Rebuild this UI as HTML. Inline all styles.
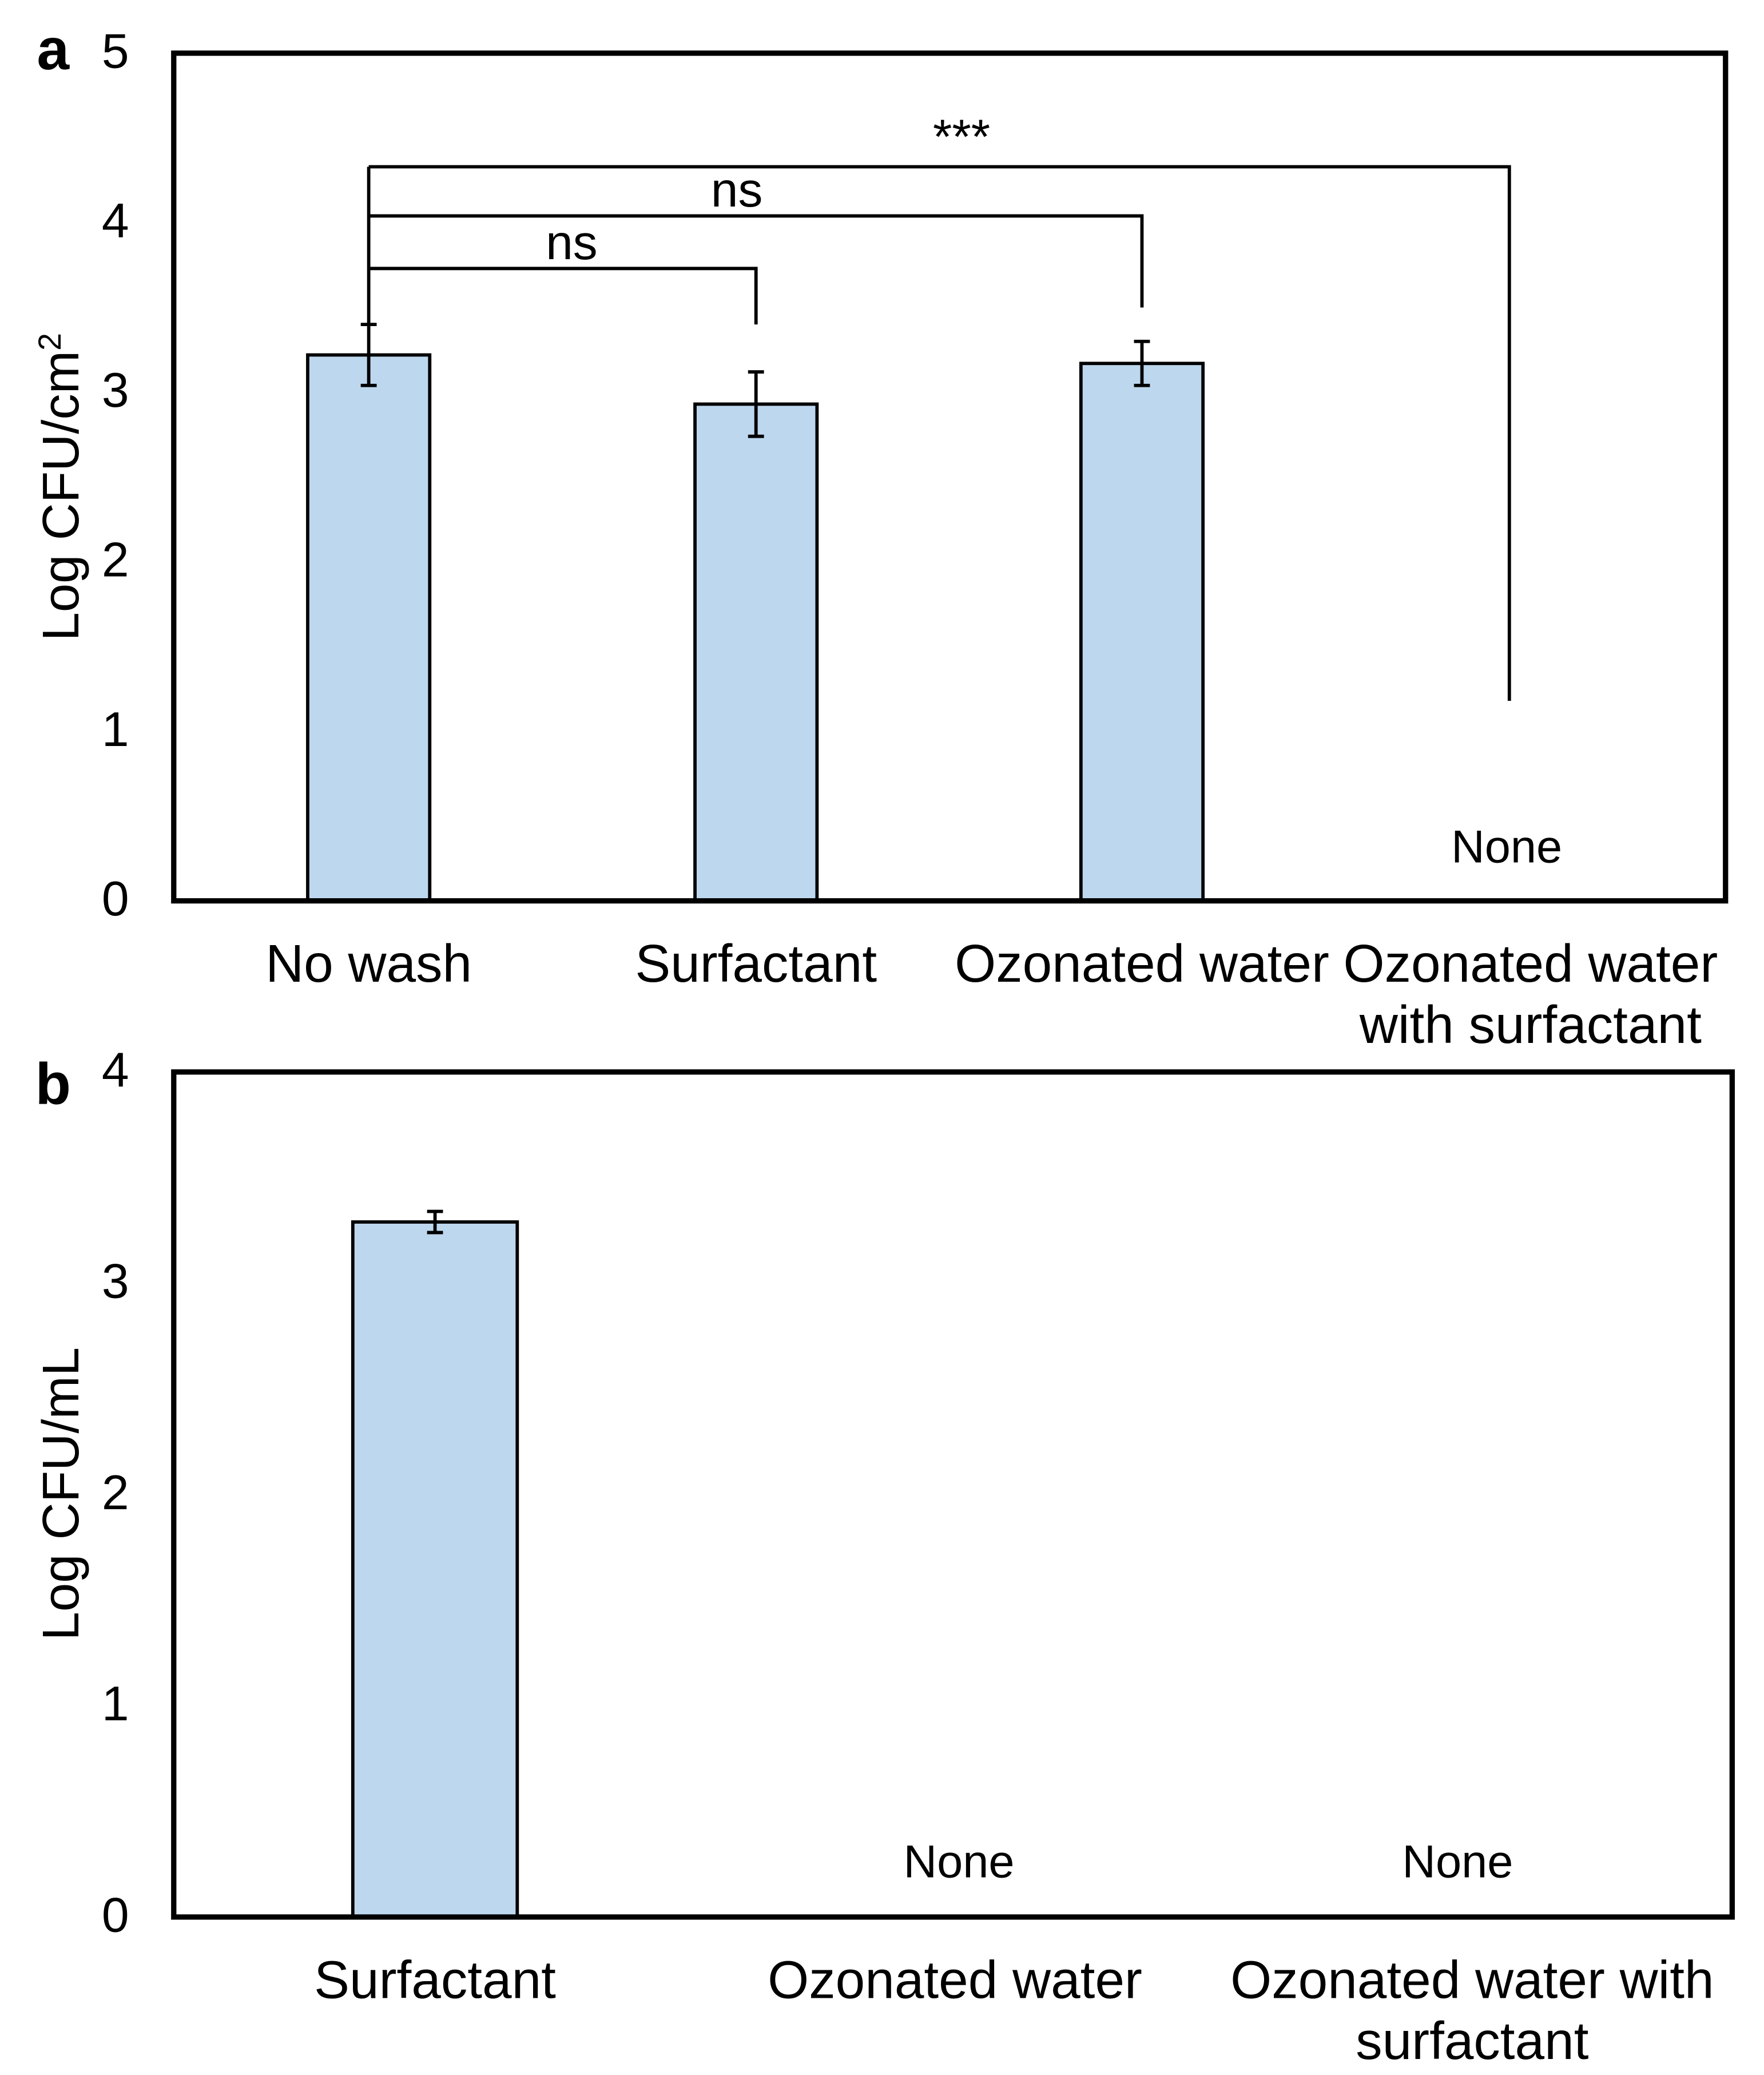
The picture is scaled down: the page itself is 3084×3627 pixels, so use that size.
<!DOCTYPE html>
<html><head><meta charset="utf-8"><style>html,body{margin:0;padding:0;background:#fff}svg{display:block}</style></head>
<body>
<svg id="chart" xmlns="http://www.w3.org/2000/svg" width="3084" height="3627" viewBox="0 0 1330 1564" font-family="'Liberation Sans', sans-serif">
<rect x="0" y="0" width="1330" height="1564" fill="#fff"/>
</svg>
<script>
const NS='http://www.w3.org/2000/svg';
const svg=document.getElementById('chart');
// Panel a data
const catsA=[['No wash'],['Surfactant'],['Ozonated water'],['Ozonated water','with surfactant']];
const valsA=[3.22,2.93,3.17,null];
const errsA=[0.18,0.19,0.13,null];
const ticksA=[0,1,2,3,4,5];
// Panel b data
const catsB=[['Surfactant'],['Ozonated water'],['Ozonated water with','surfactant']];
const valsB=[3.29,null,null];
const errsB=[0.05,null,null];
const ticksB=[0,1,2,3,4];
// significance brackets (panel a)
const sigFrom=[0,0,0];
const sigTo=[1,2,3];
const sigY=[3.73,4.04,4.33];
const sigEnd=[3.4,3.5,1.18];
const sigLabel=['ns','ns','***'];

function el(tag,attrs,parent){const e=document.createElementNS(NS,tag);for(const k in attrs)e.setAttribute(k,attrs[k]);(parent||svg).appendChild(e);return e;}
function txt(s,x,y,attrs,parent){const t=el('text',Object.assign({x:x,y:y,'font-size':40,fill:'#000','text-anchor':'middle'},attrs),parent);t.textContent=s;return t;}

function panel(o){
  const g=el('g',{});
  
  
  const yS=v=>o.bottom-(v-0)/(o.max)*(o.bottom-o.top);
  const xS=i=>o.centers[i];
  o.vals.forEach((v,i)=>{
    if(v===null){
      const n=txt('None',xS(i)+o.noneDx[i],o.noneY,{'font-size':35},g);
      
      
      return;
    }
    const r=el('rect',{x:xS(i)-o.bw/2,y:yS(v),width:o.bw,height:yS(0)-yS(v),fill:'#bdd7ee',stroke:'#000','stroke-width':2.5},g);
    
    
    const e=o.errs[i];
    const eg=el('g',{stroke:'#000','stroke-width':2.5},g);
    
    
    el('line',{x1:xS(i),x2:xS(i),y1:yS(v+e),y2:yS(v-e)},eg);
    el('line',{x1:xS(i)-6,x2:xS(i)+6,y1:yS(v+e),y2:yS(v+e)},eg);
    el('line',{x1:xS(i)-6,x2:xS(i)+6,y1:yS(v-e),y2:yS(v-e)},eg);
  });
  o.ticks.forEach(t=>{
    const l=txt(String(t),87,yS(t)+11,{'font-size':37},g);
    
    
  });
  o.cats.forEach((c,i)=>{
    c.forEach((line,j)=>{
      const l=txt(line,xS(i)+(o.catDx[i]||0),o.catY+j*46,{},g);
      
      
    });
  });
  const f=el('rect',{x:o.left,y:o.top,width:o.right-o.left,height:o.bottom-o.top,fill:'none',stroke:'#000','stroke-width':4},g);
  
  
  const pl=txt(o.letter,40,o.letterY,{'font-weight':'bold','font-size':44},g);
  
  
  const yt=el('text',{x:0,y:0,'font-size':39,'text-anchor':'middle',transform:`translate(59,${o.titleY}) rotate(-90)`},g);
  yt.innerHTML=o.title;
  
  
  return {yS,xS,g};
}

const A=panel({name:'panel-a',left:131,right:1301,top:40,bottom:679,max:5,centers:[278,570,861,1138],bw:92,
  vals:valsA,errs:errsA,ticks:ticksA,cats:catsA,catY:740,catDx:[0,0,0,16],noneY:650,noneDx:[0,0,0,-2],letter:'a',letterY:52,
  title:'Log CFU/cm<tspan baseline-shift="super" font-size="24">2</tspan>',titleY:367});
const sg=el('g',{stroke:'#000','stroke-width':2.5,fill:'none'});


el('line',{x1:A.xS(0),x2:A.xS(0),y1:A.yS(Math.max(...sigY)),y2:A.yS(valsA[0]+errsA[0])},sg);
const sigDx=[7,-14,17];
sigFrom.forEach((f,k)=>{
  const y=A.yS(sigY[k]);
  el('polyline',{points:`${A.xS(f)},${y} ${A.xS(sigTo[k])},${y} ${A.xS(sigTo[k])},${A.yS(sigEnd[k])}`},sg);
  const l=txt(sigLabel[k],(A.xS(f)+A.xS(sigTo[k]))/2+sigDx[k],y-(k==2?10:7),{'font-size':37});
  
  
});

panel({name:'panel-b',left:131,right:1306,top:808,bottom:1445,max:4,centers:[328,720,1110],bw:124,
  vals:valsB,errs:errsB,ticks:ticksB,cats:catsB,catY:1506,catDx:[0,0,0],noneY:1415,noneDx:[0,3,-11],letter:'b',letterY:832,
  title:'Log CFU/mL',titleY:1126});
</script>
</body></html>
